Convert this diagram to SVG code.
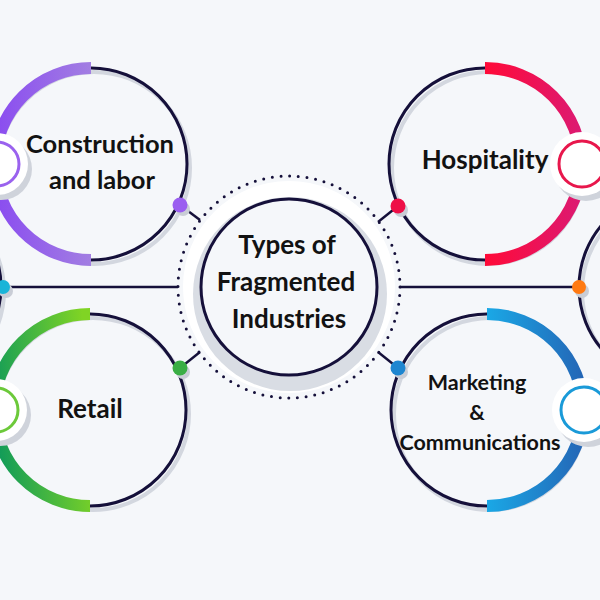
<svg xmlns="http://www.w3.org/2000/svg" width="600" height="600" viewBox="0 0 600 600">
<defs>
<linearGradient id="gPurple" x1="0" y1="0.5" x2="1" y2="0.5"><stop offset="0" stop-color="#8a4cf0"/><stop offset="1" stop-color="#a27ee2"/></linearGradient>
<linearGradient id="gGreen" x1="0" y1="0.6" x2="1" y2="0.4"><stop offset="0" stop-color="#0f9a5a"/><stop offset="1" stop-color="#80d424"/></linearGradient>
<linearGradient id="gRed" x1="0" y1="0.5" x2="1" y2="0.5"><stop offset="0" stop-color="#ff0a38"/><stop offset="1" stop-color="#dc1a72"/></linearGradient>
<linearGradient id="gBlue" x1="0" y1="0.5" x2="1" y2="0.5"><stop offset="0" stop-color="#1aa8e6"/><stop offset="1" stop-color="#2466b6"/></linearGradient>
</defs>
<style>
.ring{fill:none;stroke:#15103a;stroke-width:3}
.rshadow{fill:none;stroke:#d3d7df;stroke-width:4}
.arc{fill:none;stroke-width:12}
.lbl{font-family:Lato,"Open Sans","Liberation Sans",sans-serif;font-weight:700;fill:#121212;text-anchor:middle}
.conn{stroke:#15103a;stroke-width:2.5;fill:none}
.sw{fill:#ffffff}
.ss{fill:#cfd3db}
.dsh{fill:#c9cdd6}
</style>
<rect width="600" height="600" fill="#f5f7fa"/>

<g id="connectors">
<line class="conn" x1="3" y1="287" x2="178" y2="287"/>
<line class="conn" x1="400" y1="287" x2="578" y2="287"/>
<line class="conn" x1="180" y1="205" x2="200" y2="220"/>
<line class="conn" x1="398" y1="206" x2="378" y2="222"/>
<line class="conn" x1="180" y1="368" x2="200" y2="352"/>
<line class="conn" x1="398" y1="368" x2="378" y2="352"/>
</g>

<g id="left-partial">
<circle class="rshadow" cx="-92" cy="291" r="96"/>
<circle class="ring" cx="-95" cy="287" r="96"/>
<circle class="dsh" cx="6" cy="291" r="7"/>
<circle cx="3" cy="287" r="7" fill="#19b4d8"/>
</g>

<g id="right-partial">
<circle class="rshadow" cx="678" cy="291" r="96"/>
<circle class="ring" cx="675" cy="287" r="96"/>
<circle class="dsh" cx="582" cy="291" r="7"/>
<circle cx="579" cy="287" r="7" fill="#ff7a12"/>
</g>

<g id="center">
<circle cx="289" cy="287" r="106" fill="#ffffff"/>
<circle cx="290" cy="294" r="97" fill="#d9dde4"/>
<circle cx="289" cy="287" r="88" fill="#f5f7fa"/>
<circle cx="289" cy="287" r="88" fill="none" stroke="#15103a" stroke-width="3"/>
<circle cx="289" cy="287" r="111" fill="none" stroke="#15103a" stroke-width="3" stroke-linecap="round" stroke-dasharray="0 8.72"/>
<text class="lbl" x="287" y="254" font-size="26">Types of</text>
<text class="lbl" x="286" y="291" font-size="26">Fragmented</text>
<text class="lbl" x="289" y="328" font-size="26">Industries</text>
</g>

<g id="construction">
<circle class="rshadow" cx="94" cy="168" r="96"/>
<circle class="ring" cx="91" cy="164" r="96"/>
<path class="arc" d="M91,68 A96,96 0 0 0 91,260" stroke="url(#gPurple)"/>
<circle class="ss" cx="1" cy="169" r="31"/>
<circle class="sw" cx="-3" cy="164" r="31"/>
<circle cx="-3" cy="164" r="22" fill="none" stroke="#9a62ee" stroke-width="3"/>
<circle class="dsh" cx="183" cy="209" r="7"/>
<circle cx="180" cy="205" r="7.5" fill="#9a5ef0"/>
<text class="lbl" x="100" y="153" font-size="25.5">Construction</text>
<text class="lbl" x="102" y="189" font-size="25.5">and labor</text>
</g>

<g id="hospitality">
<circle class="rshadow" cx="488" cy="168" r="96"/>
<circle class="ring" cx="485" cy="164" r="96"/>
<path class="arc" d="M485,68 A96,96 0 0 1 485,260" stroke="url(#gRed)"/>
<circle class="ss" cx="586" cy="169" r="32"/>
<circle class="sw" cx="582" cy="164" r="32"/>
<circle cx="582" cy="164" r="23" fill="none" stroke="#e8174c" stroke-width="3"/>
<circle class="dsh" cx="401" cy="210" r="7"/>
<circle cx="398" cy="206" r="7.5" fill="#ee0f47"/>
<text class="lbl" x="485" y="169" font-size="26">Hospitality</text>
</g>

<g id="retail">
<circle class="rshadow" cx="93" cy="414" r="96"/>
<circle class="ring" cx="90" cy="410" r="96"/>
<path class="arc" d="M90,314 A96,96 0 0 0 90,506" stroke="url(#gGreen)"/>
<circle class="ss" cx="0" cy="415" r="31"/>
<circle class="sw" cx="-4" cy="410" r="31"/>
<circle cx="-4" cy="410" r="22" fill="none" stroke="#6cc93a" stroke-width="3"/>
<circle class="dsh" cx="183" cy="372" r="7"/>
<circle cx="180" cy="368" r="7.5" fill="#3aae45"/>
<text class="lbl" x="90" y="418" font-size="26">Retail</text>
</g>

<g id="marketing">
<circle class="rshadow" cx="490" cy="414" r="96"/>
<circle class="ring" cx="487" cy="410" r="96"/>
<path class="arc" d="M487,314 A96,96 0 0 1 487,506" stroke="url(#gBlue)"/>
<circle class="ss" cx="588" cy="415" r="32"/>
<circle class="sw" cx="584" cy="410" r="32"/>
<circle cx="584" cy="410" r="23" fill="none" stroke="#1a9ad8" stroke-width="3"/>
<circle class="dsh" cx="401" cy="372" r="7"/>
<circle cx="398" cy="368" r="7.5" fill="#1e86d0"/>
<text class="lbl" x="477" y="390" font-size="21.5">Marketing</text>
<text class="lbl" x="477" y="420" font-size="21.5">&amp;</text>
<text class="lbl" x="480" y="450" font-size="21.5">Communications</text>
</g>
</svg>
